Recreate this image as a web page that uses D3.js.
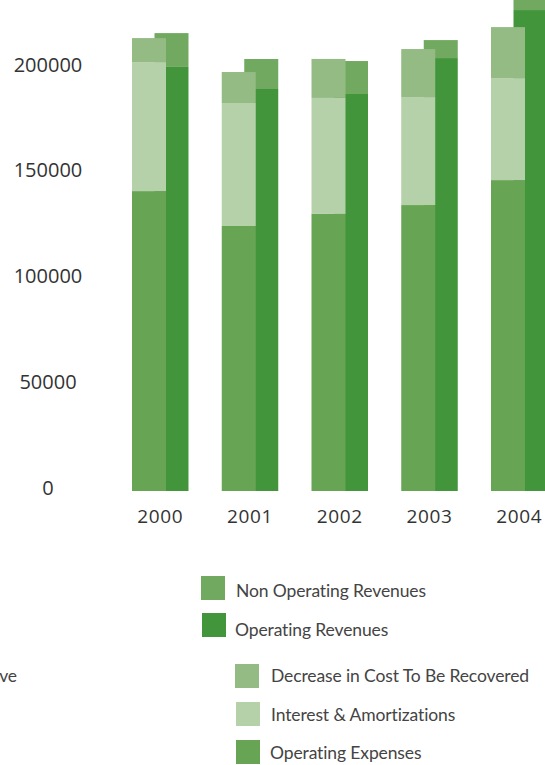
<!DOCTYPE html>
<html>
<head>
<meta charset="utf-8">
<script src="https://cdn.jsdelivr.net/npm/d3@7"></script>
<style>
  html, body { margin: 0; padding: 0; background: #fff; overflow: hidden; }
  svg { display: block; }
  .tick-label { font-family: "Open Sans", sans-serif; font-size: 20px; fill: #333; }
  .year-label { font-family: "Open Sans", sans-serif; font-size: 19px; fill: #333; letter-spacing: 0.6px; }
  .legend-label { font-family: Lato, sans-serif; font-size: 17.5px; fill: #444; letter-spacing: -0.12px; }
</style>
</head>
<body>
<svg id="chart" width="545" height="765"></svg>
<script>
// Fiscal years
const years = ["2000", "2001", "2002", "2003", "2004"];

// Expense side (stacked, bottom to top)
const operatingExpenses   = [141800, 125300, 131000, 135200, 147000];
const interestAmort       = [61000, 58150, 54850, 51060, 48230];
const decreaseCost        = [11350, 14650, 18440, 22700, 24110];

// Revenue side (stacked, bottom to top)
const operatingRevenues    = [200500, 190070, 187700, 204700, 227400];
const nonOperatingRevenues = [16000, 14180, 15600, 8500, 12000];

// Axis ticks
const yTicks = [0, 50000, 100000, 150000, 200000];

const svg = d3.select("#chart");

const y = d3.scaleLinear().domain([0, 200000]).range([491, 68]);
const x = d3.scaleBand().domain(years).range([132, 547.5]).paddingInner(0.3705).paddingOuter(0);
const barW = x.bandwidth() * 34 / 56.5;

const colors = {
  oe: "#67a454",
  ia: "#b5d1aa",
  dc: "#93bb83",
  or: "#42953a",
  nor: "#72a961"
};

// Build stacked layers
const rows = years.map((yr, i) => ({
  year: yr,
  oe: operatingExpenses[i], ia: interestAmort[i], dc: decreaseCost[i],
  or: operatingRevenues[i], nor: nonOperatingRevenues[i]
}));
const revStack = d3.stack().keys(["or", "nor"])(rows);
const expStack = d3.stack().keys(["oe", "ia", "dc"])(rows);

// Revenue bars (right of each pair, drawn underneath)
svg.append("g").selectAll("g").data(revStack).join("g")
  .attr("fill", d => colors[d.key])
  .selectAll("rect").data(d => d).join("rect")
  .attr("x", d => x(d.data.year) + x.bandwidth() - barW)
  .attr("y", d => y(d[1]))
  .attr("width", barW)
  .attr("height", d => y(d[0]) - y(d[1]));

// Expense bars (left of each pair, drawn on top)
svg.append("g").selectAll("g").data(expStack).join("g")
  .attr("fill", d => colors[d.key])
  .selectAll("rect").data(d => d).join("rect")
  .attr("x", d => x(d.data.year))
  .attr("y", d => y(d[1]))
  .attr("width", barW)
  .attr("height", d => y(d[0]) - y(d[1]));

// Value axis labels
svg.append("g").selectAll("text").data(yTicks).join("text")
  .attr("class", "tick-label")
  .attr("x", 48)
  .attr("y", d => y(d))
  .attr("dy", 3.6)
  .attr("text-anchor", "middle")
  .text(d => d);

// Year labels
svg.append("g").selectAll("text").data(years).join("text")
  .attr("class", "year-label")
  .attr("x", d => x(d) + x.bandwidth() / 2)
  .attr("y", 523)
  .attr("text-anchor", "middle")
  .text(d => d);

// Legend
const legendItems = [
  { label: "Non Operating Revenues", key: "nor", sx: 201, sy: 576, tx: 236, ty: 597 },
  { label: "Operating Revenues", key: "or", sx: 202, sy: 613, tx: 235, ty: 636 },
  { label: "Decrease in Cost To Be Recovered", key: "dc", sx: 235, sy: 664, tx: 271, ty: 682 },
  { label: "Interest & Amortizations", key: "ia", sx: 236, sy: 702, tx: 271, ty: 721 },
  { label: "Operating Expenses", key: "oe", sx: 236, sy: 740, tx: 270, ty: 759 }
];
const lg = svg.append("g").selectAll("g").data(legendItems).join("g");
lg.append("rect")
  .attr("x", d => d.sx).attr("y", d => d.sy)
  .attr("width", 24).attr("height", 24)
  .attr("fill", d => colors[d.key]);
lg.append("text")
  .attr("class", "legend-label")
  .attr("x", d => d.tx).attr("y", d => d.ty)
  .text(d => d.label);

// Trailing fragment of a label at the left edge
svg.append("text")
  .attr("class", "legend-label")
  .attr("x", 17).attr("y", 682)
  .attr("text-anchor", "end")
  .text("ve");
</script>
</body>
</html>
